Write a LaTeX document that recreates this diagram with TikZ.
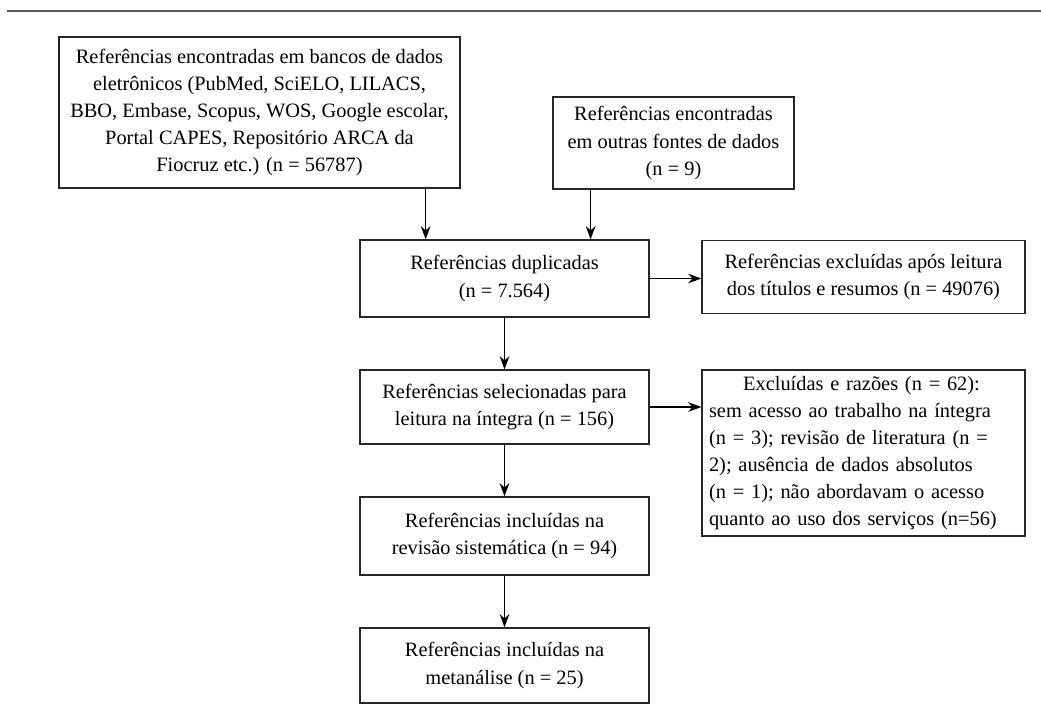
\documentclass[tikz,border=0pt]{standalone}
\usepackage{fontspec}
\setmainfont{Liberation Serif}
\usetikzlibrary{calc,arrows.meta}

\begin{document}
\begin{tikzpicture}[x=0.02cm,y=-0.02cm,
  caixa/.style={draw=black!85, line width=0.8pt, align=center, inner sep=1pt,
    font=\fontsize{11.6}{15.4}\selectfont},
  seta/.style={line width=0.7pt, -{Stealth[length=7.5pt,width=5.5pt]}}]
\useasboundingbox (0,0) rectangle (1041,721);

% linha do topo
\draw [line width=1.1pt, black!65] (7,11)--(1041,11);

% caixas
\node[caixa, minimum width=8.02cm, minimum height=3.02cm] (bancos) at (259.5,112.5)
  {Referências encontradas em bancos de dados\\ eletrônicos (PubMed, SciELO, LILACS,\\
   BBO, Embase, Scopus, WOS, Google escolar,\\ Portal CAPES, Repositório ARCA da\\
   Fiocruz etc.) (n = 56787)};
\node[caixa, minimum width=4.82cm, minimum height=1.84cm] (outras) at (673.5,143)
  {Referências encontradas\\ em outras fontes de dados\\ (n = 9)};
\node[caixa, minimum width=5.78cm, minimum height=1.54cm] (dup) at (504.5,278.5)
  {Referências duplicadas\\ (n = 7.564)};
\node[caixa, minimum width=6.46cm, minimum height=1.46cm] (excl1) at (863.5,277)
  {Referências excluídas após leitura\\ dos títulos e resumos (n = 49076)};
\node[caixa, minimum width=5.78cm, minimum height=1.48cm] (sel) at (504.5,407)
  {Referências selecionadas para\\ leitura na íntegra (n = 156)};
\node[caixa, minimum width=6.46cm, minimum height=3.32cm, align=left, text width=6.18cm] (excl2) at (863.5,453)
  {\makebox[6.1cm]{Excluídas e razões (n = 62):}\\ sem acesso ao trabalho na íntegra\\
   (n = 3); revisão de literatura (n =\\ 2); ausência de dados absolutos\\
   (n = 1); não abordavam o acesso\\ quanto ao uso dos serviços (n=56)};
\node[caixa, minimum width=5.78cm, minimum height=1.56cm] (incl) at (504.5,536)
  {Referências incluídas na\\ revisão sistemática (n = 94)};
\node[caixa, minimum width=5.78cm, minimum height=1.5cm] (meta) at (504.5,665.5)
  {Referências incluídas na\\ metanálise (n = 25)};

% setas
\coordinate (pA) at ($(bancos.south west)!0.913!(bancos.south east)$);
\coordinate (pB) at ($(outras.south west)!0.158!(outras.south east)$);
\draw[seta] (pA) -- (pA |- dup.north);
\draw[seta] (pB) -- (pB |- dup.north);
\draw[seta] (dup.east) -- (dup.east -| excl1.west);
\draw[seta] (dup.south) -- (sel.north);
\draw[seta] (sel.east) -- (sel.east -| excl2.west);
\draw[seta] (sel.south) -- (incl.north);
\draw[seta] (incl.south) -- (meta.north);
\end{tikzpicture}
\end{document}
